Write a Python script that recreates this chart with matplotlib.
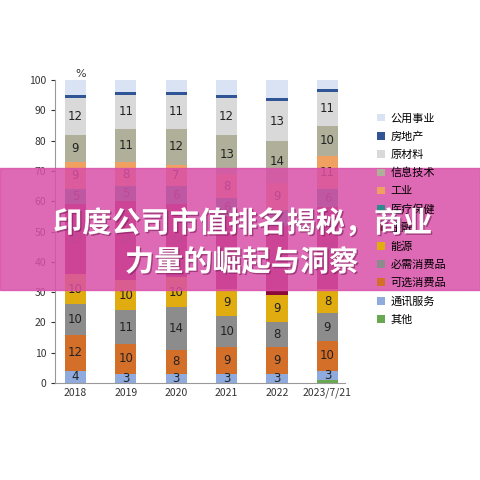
import matplotlib
matplotlib.use("Agg")
import matplotlib.pyplot as plt
import matplotlib.patheffects as pe
import numpy as np

plt.rcParams['font.family'] = ['Noto Sans CJK SC', 'DejaVu Sans']

years = ["2018", "2019", "2020", "2021", "2022", "2023/7/21"]
sectors = ["其他", "通讯服务", "可选消费品", "必需消费品", "能源", "金融", "医疗保健",
           "工业", "信息技术", "原材料", "房地产", "公用事业"]
other      = [0, 0, 0, 0, 0, 1]
telecom    = [4, 3, 3, 3, 3, 3]
discretion = [12, 10, 8, 9, 9, 10]
staples    = [10, 11, 14, 10, 8, 9]
energy     = [10, 10, 10, 9, 9, 8]
finance    = [23, 26, 24, 24, 23, 27]
health     = [5, 5, 6, 6, 5, 6]
industry   = [9, 8, 7, 8, 9, 11]
infotech   = [9, 11, 12, 13, 14, 10]
materials  = [12, 11, 11, 12, 13, 11]
realestate = [1, 1, 1, 1, 1, 1]
utilities  = [5, 4, 4, 5, 6, 3]
data = [other, telecom, discretion, staples, energy, finance, health,
        industry, infotech, materials, realestate, utilities]
colors = ["#6aa84f", "#8faadc", "#d46f2a", "#8c8c8c", "#e0ac10", "#8b0a3a", "#2e8b8b",
          "#f0a060", "#b0b09a", "#d9d9d9", "#2f5597", "#dae3f3"]
labelled = {1, 2, 3, 4, 5, 6, 7, 8, 9}

fig = plt.figure(figsize=(4.8, 4.8), dpi=100)
ax = fig.add_axes([0.115, 0.202, 0.604, 0.631])
x = np.arange(len(years))
bottom = np.zeros(len(years))
handles = []
for i, (vals, c, name) in enumerate(zip(data, colors, sectors)):
    vals = np.array(vals, float)
    b = ax.bar(x, vals, 0.42, bottom=bottom, color=c, label=name)
    handles.append(b)
    if i in labelled:
        for xi, v, bt in zip(x, vals, bottom):
            if v >= 3:
                ax.text(xi, bt + v / 2, f"{int(v)}", ha="center", va="center", fontsize=8.5,
                        color="#222222", family="DejaVu Sans")
    bottom += vals

ax.set_ylim(0, 100)
ax.set_xlim(-0.4, 5.35)
ax.set_yticks(range(0, 101, 10))
ax.set_xticks(x)
ax.set_xticklabels(years)
ax.tick_params(labelsize=7.5, colors="#333333", length=3)
ax.tick_params(axis="x", length=0)
for s in ["top", "right"]:
    ax.spines[s].set_visible(False)
for s in ["left", "bottom"]:
    ax.spines[s].set_color("#999999")
ax.text(0.01, 101, "%", fontsize=8, color="#333333", family="DejaVu Sans")

fig.legend(handles[::-1], sectors[::-1], loc="upper left", bbox_to_anchor=(0.765, 0.785),
           frameon=False, fontsize=8, handlelength=0.7, handleheight=0.7,
           handletextpad=0.5, labelspacing=0.72)

# overlay banner
fig.patches.append(plt.Rectangle((0, 0.395), 1, 0.255, transform=fig.transFigure,
                                 color="#d94fa8", alpha=0.85, zorder=5))
eff = [pe.withSimplePatchShadow(offset=(1, -1), shadow_rgbFace="#7a1e5a", alpha=0.6)]
fig.text(0.505, 0.535, "印度公司市值排名揭秘，商业", ha="center", va="center", fontsize=21,
         weight="bold", color="white", zorder=6, path_effects=eff)
fig.text(0.503, 0.454, "力量的崛起与洞察", ha="center", va="center", fontsize=21,
         weight="bold", color="white", zorder=6, path_effects=eff)

fig.savefig("out.png", dpi=100)
